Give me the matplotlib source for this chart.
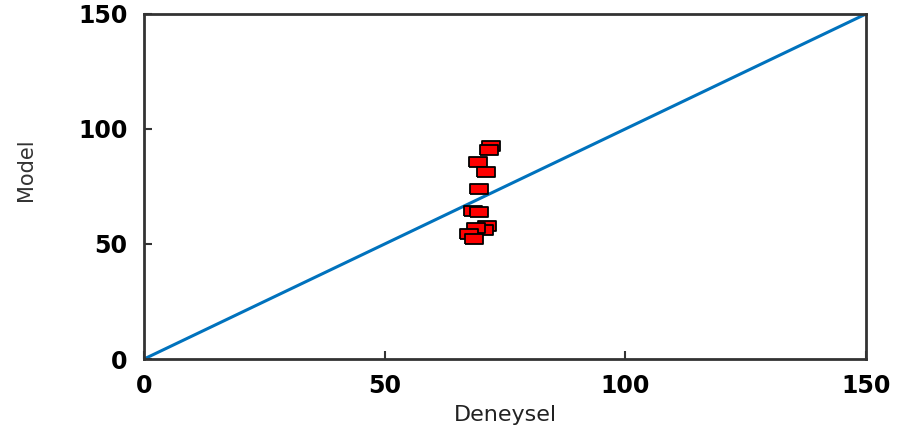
import numpy as np
import matplotlib.pyplot as plt

# dane
deneysel = [72.1, 71.6, 69.3, 71.0, 69.5, 68.3, 69.5, 71.2, 70.7, 69.0, 67.6, 68.5]
model = [92.6, 90.9, 85.5, 81.2, 74.0, 64.3, 64.0, 57.8, 56.1, 56.8, 54.2, 52.2]
linia = [0, 150]
ticks = [0, 50, 100, 150]

fig = plt.figure(figsize=(9.03, 4.36), dpi=100)
ax = fig.add_axes([0.1595, 0.1766, 0.7995, 0.7914])

ax.plot(linia, linia, color='#0072BD', lw=2.2, zorder=2)

# prostokatny znacznik (obraz rozciagniety w poziomie)
marker = [(-1.6, -1), (1.6, -1), (1.6, 1), (-1.6, 1), (-1.6, -1)]
ax.scatter(deneysel, model, marker=marker, s=150, facecolor='red',
           edgecolor='black', linewidth=1.3, zorder=3)

ax.set_xlim(0, 150)
ax.set_ylim(0, 150)
ax.set_xticks(ticks)
ax.set_yticks(ticks)
ax.tick_params(direction='in', length=6, width=1.5, color='#333333',
               labelsize=17)
ax.tick_params(axis='x', pad=11)
ax.tick_params(axis='y', pad=12)
for lab in ax.get_xticklabels() + ax.get_yticklabels():
    lab.set_fontweight('bold')
for s in ax.spines.values():
    s.set_linewidth(2)
    s.set_color('#333333')

ax.set_xlabel('Deneysel', fontsize=16, color='#222222', labelpad=5)
ax.set_ylabel('Model', fontsize=15, color='#333333', labelpad=30)
ax.yaxis.label.set_y(0.55)

plt.savefig('out.png', dpi=100)
